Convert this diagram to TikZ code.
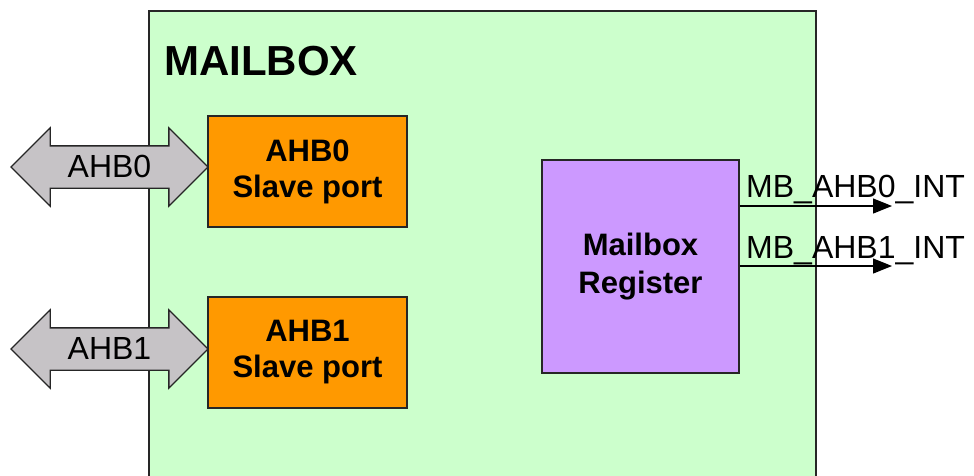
\documentclass[tikz,border=0pt]{standalone}
\usepackage{fontspec}
\setmainfont{Liberation Sans}
\usetikzlibrary{arrows.meta,shapes.arrows}
\definecolor{mbgreen}{HTML}{CCFFCC}
\definecolor{portorange}{HTML}{FF9900}
\definecolor{regpurple}{HTML}{CC99FF}
\definecolor{busgray}{HTML}{C6C3C6}
\definecolor{edge}{HTML}{262626}

\begin{document}
\begin{tikzpicture}[x=1pt,y=-1pt,
  portbox/.style={draw=edge, line width=1.3pt, fill=portorange,
    minimum width=199pt, minimum height=111pt, inner sep=0pt, align=center,
    font=\fontsize{31}{36}\selectfont\bfseries},
  regbox/.style={draw=edge, line width=1.3pt, fill=regpurple,
    minimum width=197pt, minimum height=213pt, inner sep=0pt, align=center,
    font=\fontsize{31}{38}\selectfont\bfseries},
  busarrow/.style={double arrow, draw=edge, line width=1.3pt, fill=busgray,
    double arrow head extend=18pt, double arrow tip angle=90,
    minimum height=197pt, text height=21pt, text depth=0pt,
    inner xsep=2pt, inner ysep=10pt,
    font=\fontsize{32}{36}\selectfont},
  siglabel/.style={anchor=base west, inner sep=0pt,
    font=\fontsize{32}{36}\selectfont},
  sig/.style={line width=1.2pt, draw=black,
    -{Triangle[length=19pt,width=15pt]}}
]
\useasboundingbox (0,0) rectangle (974,475);

% mailbox block (continues below the page edge)
\node[draw=edge, line width=1.5pt, fill=mbgreen, anchor=north west,
  minimum width=667pt, minimum height=490pt, inner sep=0pt] (mb) at (148,10) {};
\node[anchor=base west, inner sep=0pt,
  font=\fontsize{42}{50}\selectfont\bfseries] (title) at (164,75) {MAILBOX};

% slave ports
\node[portbox] (p0) at (307.5,171.5) {AHB0\\Slave port};
\node[portbox] (p1) at (307.5,352.5) {AHB1\\Slave port};

% AHB buses
\node[busarrow] (bus0) at (109.5,167) {AHB0};
\node[busarrow] (bus1) at (109.5,349) {AHB1};

% register block
\node[regbox] (reg) at (640.5,266.5) {Mailbox\\Register};

% interrupt outputs
\coordinate (int0) at (892,206);
\coordinate (int1) at (892,266);
\draw[sig] (reg.east |- int0) -- (int0);
\draw[sig] (reg.east |- int1) -- (int1);
\node[siglabel] (lab0) at (746,197) {MB\_AHB0\_INT};
\node[siglabel] (lab1) at (746,258) {MB\_AHB1\_INT};
\end{tikzpicture}
\end{document}
